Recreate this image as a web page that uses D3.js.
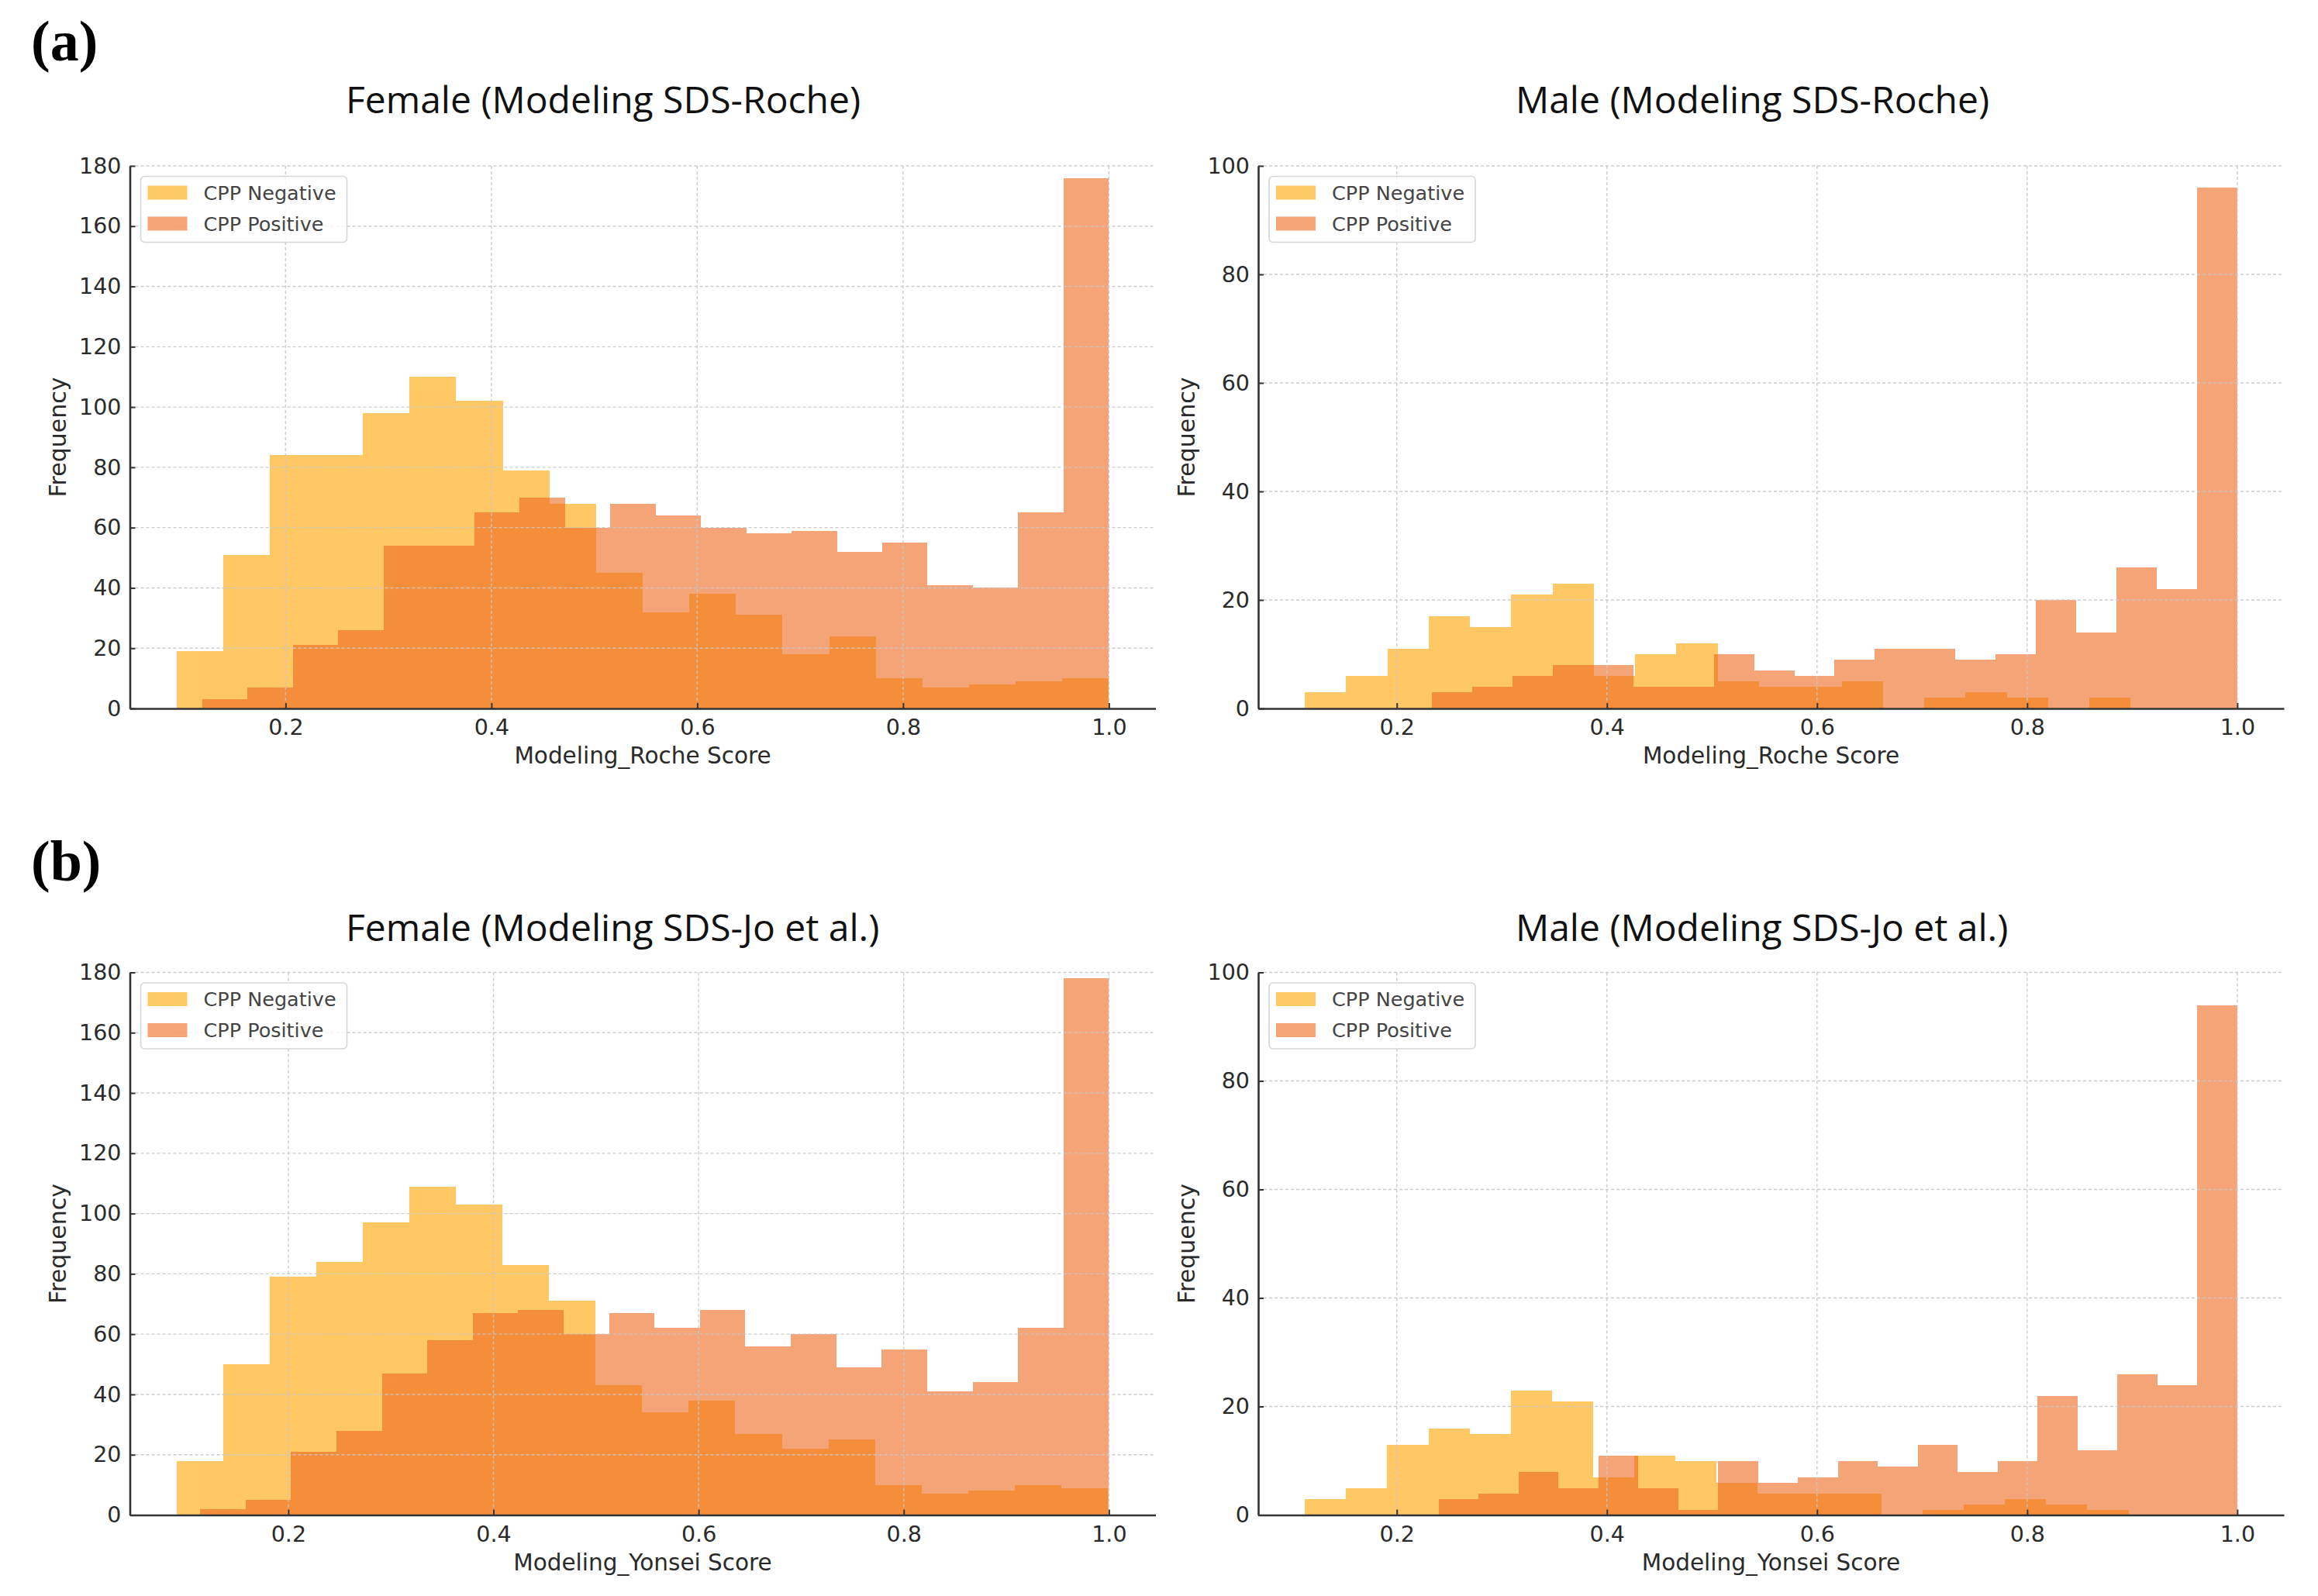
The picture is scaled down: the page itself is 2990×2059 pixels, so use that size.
<!DOCTYPE html>
<html>
<head>
<meta charset="utf-8">
<script src="https://cdn.jsdelivr.net/npm/d3@7"></script>
<style>
  html, body { margin: 0; padding: 0; background: #ffffff; }
  svg { display: block; }
</style>
</head>
<body>
<svg id="chart" width="2990" height="2059"></svg>
<script>
// ---------------- DATA ----------------
const xTicks = [0.2, 0.4, 0.6, 0.8, 1.0];
const femaleYTicks = [0, 20, 40, 60, 80, 100, 120, 140, 160, 180];
const maleYTicks = [0, 20, 40, 60, 80, 100];
const legendLabels = ["CPP Negative", "CPP Positive"];
const panelLetters = ["(a)", "(b)"];
const panelTitles = [
  "Female (Modeling SDS-Roche)", "Male (Modeling SDS-Roche)",
  "Female (Modeling SDS-Jo et al.)", "Male (Modeling SDS-Jo et al.)"
];
const xAxisLabels = ["Modeling_Roche Score", "Modeling_Yonsei Score"];
const yAxisLabel = "Frequency";

// 20-bin histograms: [min, max] of the score range and counts per bin
const femaleRocheNegRange = [0.094, 1.0];
const femaleRocheNeg = [19, 51, 84, 84, 98, 110, 102, 79, 68, 45, 32, 38, 31, 18, 24, 10, 7, 8, 9, 10];
const femaleRochePosRange = [0.119, 1.0];
const femaleRochePos = [3, 7, 21, 26, 54, 54, 65, 70, 60, 68, 64, 60, 58, 59, 52, 55, 41, 40, 65, 176];

const maleRocheNegRange = [0.1125, 0.8985];
const maleRocheNeg = [3, 6, 11, 17, 15, 21, 23, 6, 10, 12, 5, 4, 4, 5, 0, 2, 3, 2, 0, 2];
const maleRochePosRange = [0.2335, 1.0];
const maleRochePos = [3, 4, 6, 8, 8, 4, 4, 10, 7, 6, 9, 11, 11, 9, 10, 20, 14, 26, 22, 96];

const femaleJoNegRange = [0.091, 0.999];
const femaleJoNeg = [18, 50, 79, 84, 97, 109, 103, 83, 71, 43, 34, 38, 27, 22, 25, 10, 7, 8, 10, 9];
const femaleJoPosRange = [0.114, 1.0];
const femaleJoPos = [2, 5, 21, 28, 47, 58, 67, 68, 60, 67, 62, 68, 56, 60, 49, 55, 41, 44, 62, 178];

const maleJoNegRange = [0.1125, 0.8965];
const maleJoNeg = [3, 5, 13, 16, 15, 23, 21, 7, 11, 10, 6, 4, 4, 4, 0, 1, 2, 3, 2, 1];
const maleJoPosRange = [0.240, 1.0];
const maleJoPos = [3, 4, 8, 5, 11, 5, 1, 10, 6, 7, 10, 9, 13, 8, 10, 22, 12, 26, 24, 94];

// ---------------- LAYOUT / STYLE ----------------
const NEG_COLOR = "rgb(255,165,0)";
const POS_COLOR = "rgb(240,105,32)";
const ALPHA = 0.6;
const plotW = 1323, plotH = 700;
const colLeft = [167.5, 1623];
const rowTop = [214, 1254.5];
const titleX = [446, 1955];
const titleGap = [68, 41];
const letterBase = [78, 1136];

const panels = [
  { row: 0, col: 0, title: panelTitles[0], neg: femaleRocheNeg, negR: femaleRocheNegRange, pos: femaleRochePos, posR: femaleRochePosRange, yTicks: femaleYTicks, xlabel: xAxisLabels[0] },
  { row: 0, col: 1, title: panelTitles[1], neg: maleRocheNeg, negR: maleRocheNegRange, pos: maleRochePos, posR: maleRochePosRange, yTicks: maleYTicks, xlabel: xAxisLabels[0] },
  { row: 1, col: 0, title: panelTitles[2], neg: femaleJoNeg, negR: femaleJoNegRange, pos: femaleJoPos, posR: femaleJoPosRange, yTicks: femaleYTicks, xlabel: xAxisLabels[1] },
  { row: 1, col: 1, title: panelTitles[3], neg: maleJoNeg, negR: maleJoNegRange, pos: maleJoPos, posR: maleJoPosRange, yTicks: maleYTicks, xlabel: xAxisLabels[1] }
];

function makeBins(range, counts) {
  const w = (range[1] - range[0]) / counts.length;
  return counts.map((c, i) => ({ x0: range[0] + i * w, x1: range[0] + (i + 1) * w, count: c }));
}

const svg = d3.select("#chart");
svg.append("rect").attr("width", 2990).attr("height", 2059).attr("fill", "#fff");

// panel letters
panelLetters.forEach((t, i) => {
  svg.append("text")
    .attr("x", 40).attr("y", letterBase[i])
    .attr("font-family", "'Liberation Serif', 'DejaVu Serif', serif")
    .attr("font-weight", "bold")
    .attr("font-size", 74)
    .attr("fill", "#000")
    .text(t);
});

panels.forEach(p => {
  const left = colLeft[p.col], top = rowTop[p.row];
  const lo = Math.min(p.negR[0], p.posR[0]);
  const hi = Math.max(p.negR[1], p.posR[1]);
  const pad = 0.05 * (hi - lo);
  const x = d3.scaleLinear().domain([lo - pad, hi + pad]).range([0, plotW]);
  const yMax = p.yTicks[p.yTicks.length - 1];
  const y = d3.scaleLinear().domain([0, yMax]).range([plotH, 0]);

  const g = svg.append("g").attr("transform", `translate(${left},${top})`);

  // bars
  [[p.neg, p.negR, NEG_COLOR], [p.pos, p.posR, POS_COLOR]].forEach(([counts, range, color]) => {
    const bins = makeBins(range, counts);
    g.append("g").attr("opacity", ALPHA)
      .selectAll("rect").data(bins).join("rect")
      .attr("x", d => x(d.x0))
      .attr("width", d => x(d.x1) - x(d.x0))
      .attr("y", d => y(d.count))
      .attr("height", d => y(0) - y(d.count))
      .attr("fill", color)
      .attr("shape-rendering", "crispEdges");
  });

  // grid (drawn over the bars)
  const grid = g.append("g").attr("stroke", "#c8c8c8").attr("stroke-width", 1.4)
    .attr("stroke-dasharray", "4,3").attr("opacity", 0.9);
  grid.selectAll("line.v").data(xTicks).join("line").attr("class", "v")
    .attr("x1", d => x(d)).attr("x2", d => x(d)).attr("y1", 0).attr("y2", plotH);
  grid.selectAll("line.h").data(p.yTicks.filter(v => v > 0)).join("line").attr("class", "h")
    .attr("x1", 0).attr("x2", plotW).attr("y1", d => y(d)).attr("y2", d => y(d));

  // axes
  const xAxis = d3.axisBottom(x).tickValues(xTicks).tickFormat(d3.format(".1f"))
    .tickSizeInner(-7).tickSizeOuter(0).tickPadding(14);
  const yAxis = d3.axisLeft(y).tickValues(p.yTicks).tickFormat(d3.format("d"))
    .tickSizeInner(-7).tickSizeOuter(0).tickPadding(11);
  const gx = g.append("g").attr("transform", `translate(0,${plotH})`).call(xAxis);
  const gy = g.append("g").call(yAxis);
  [gx, gy].forEach(a => {
    a.select(".domain").attr("stroke", "#333").attr("stroke-width", 2.6);
    a.selectAll(".tick line").attr("stroke", "#333").attr("stroke-width", 2);
    a.selectAll(".tick text")
      .attr("font-family", "'DejaVu Sans', sans-serif")
      .attr("font-size", 28.5).attr("fill", "#2a2a2a");
  });

  // axis labels
  g.append("text")
    .attr("x", plotW / 2).attr("y", plotH + 71)
    .attr("text-anchor", "middle")
    .attr("font-family", "'DejaVu Sans', sans-serif")
    .attr("font-size", 29.5).attr("fill", "#2a2a2a")
    .text(p.xlabel);
  g.append("text")
    .attr("transform", `translate(${-93},${plotH / 2}) rotate(-90)`)
    .attr("text-anchor", "middle").attr("dominant-baseline", "central")
    .attr("font-family", "'DejaVu Sans', sans-serif")
    .attr("font-size", 30).attr("fill", "#2a2a2a")
    .text(yAxisLabel);

  // title
  svg.append("text")
    .attr("x", titleX[p.col]).attr("y", top - titleGap[p.row])
    .attr("font-family", "'Open Sans', 'Noto Sans', sans-serif")
    .attr("font-size", 48).attr("fill", "#111")
    .text(p.title);

  // legend
  const lg = g.append("g").attr("transform", "translate(14,13.5)");
  lg.append("rect").attr("width", 266).attr("height", 85).attr("rx", 5)
    .attr("fill", "#fff").attr("fill-opacity", 0.8)
    .attr("stroke", "#d6d6d6").attr("stroke-width", 1.6);
  [NEG_COLOR, POS_COLOR].forEach((c, i) => {
    const row = lg.append("g").attr("transform", `translate(0,${21 + i * 40})`);
    row.append("rect").attr("x", 9).attr("y", -9).attr("width", 51).attr("height", 18)
      .attr("fill", c).attr("opacity", ALPHA);
    row.append("text").attr("x", 81).attr("y", 0).attr("dominant-baseline", "central")
      .attr("font-family", "'DejaVu Sans', sans-serif")
      .attr("font-size", 25.5).attr("fill", "#444")
      .text(legendLabels[i]);
  });
});
</script>
</body>
</html>
